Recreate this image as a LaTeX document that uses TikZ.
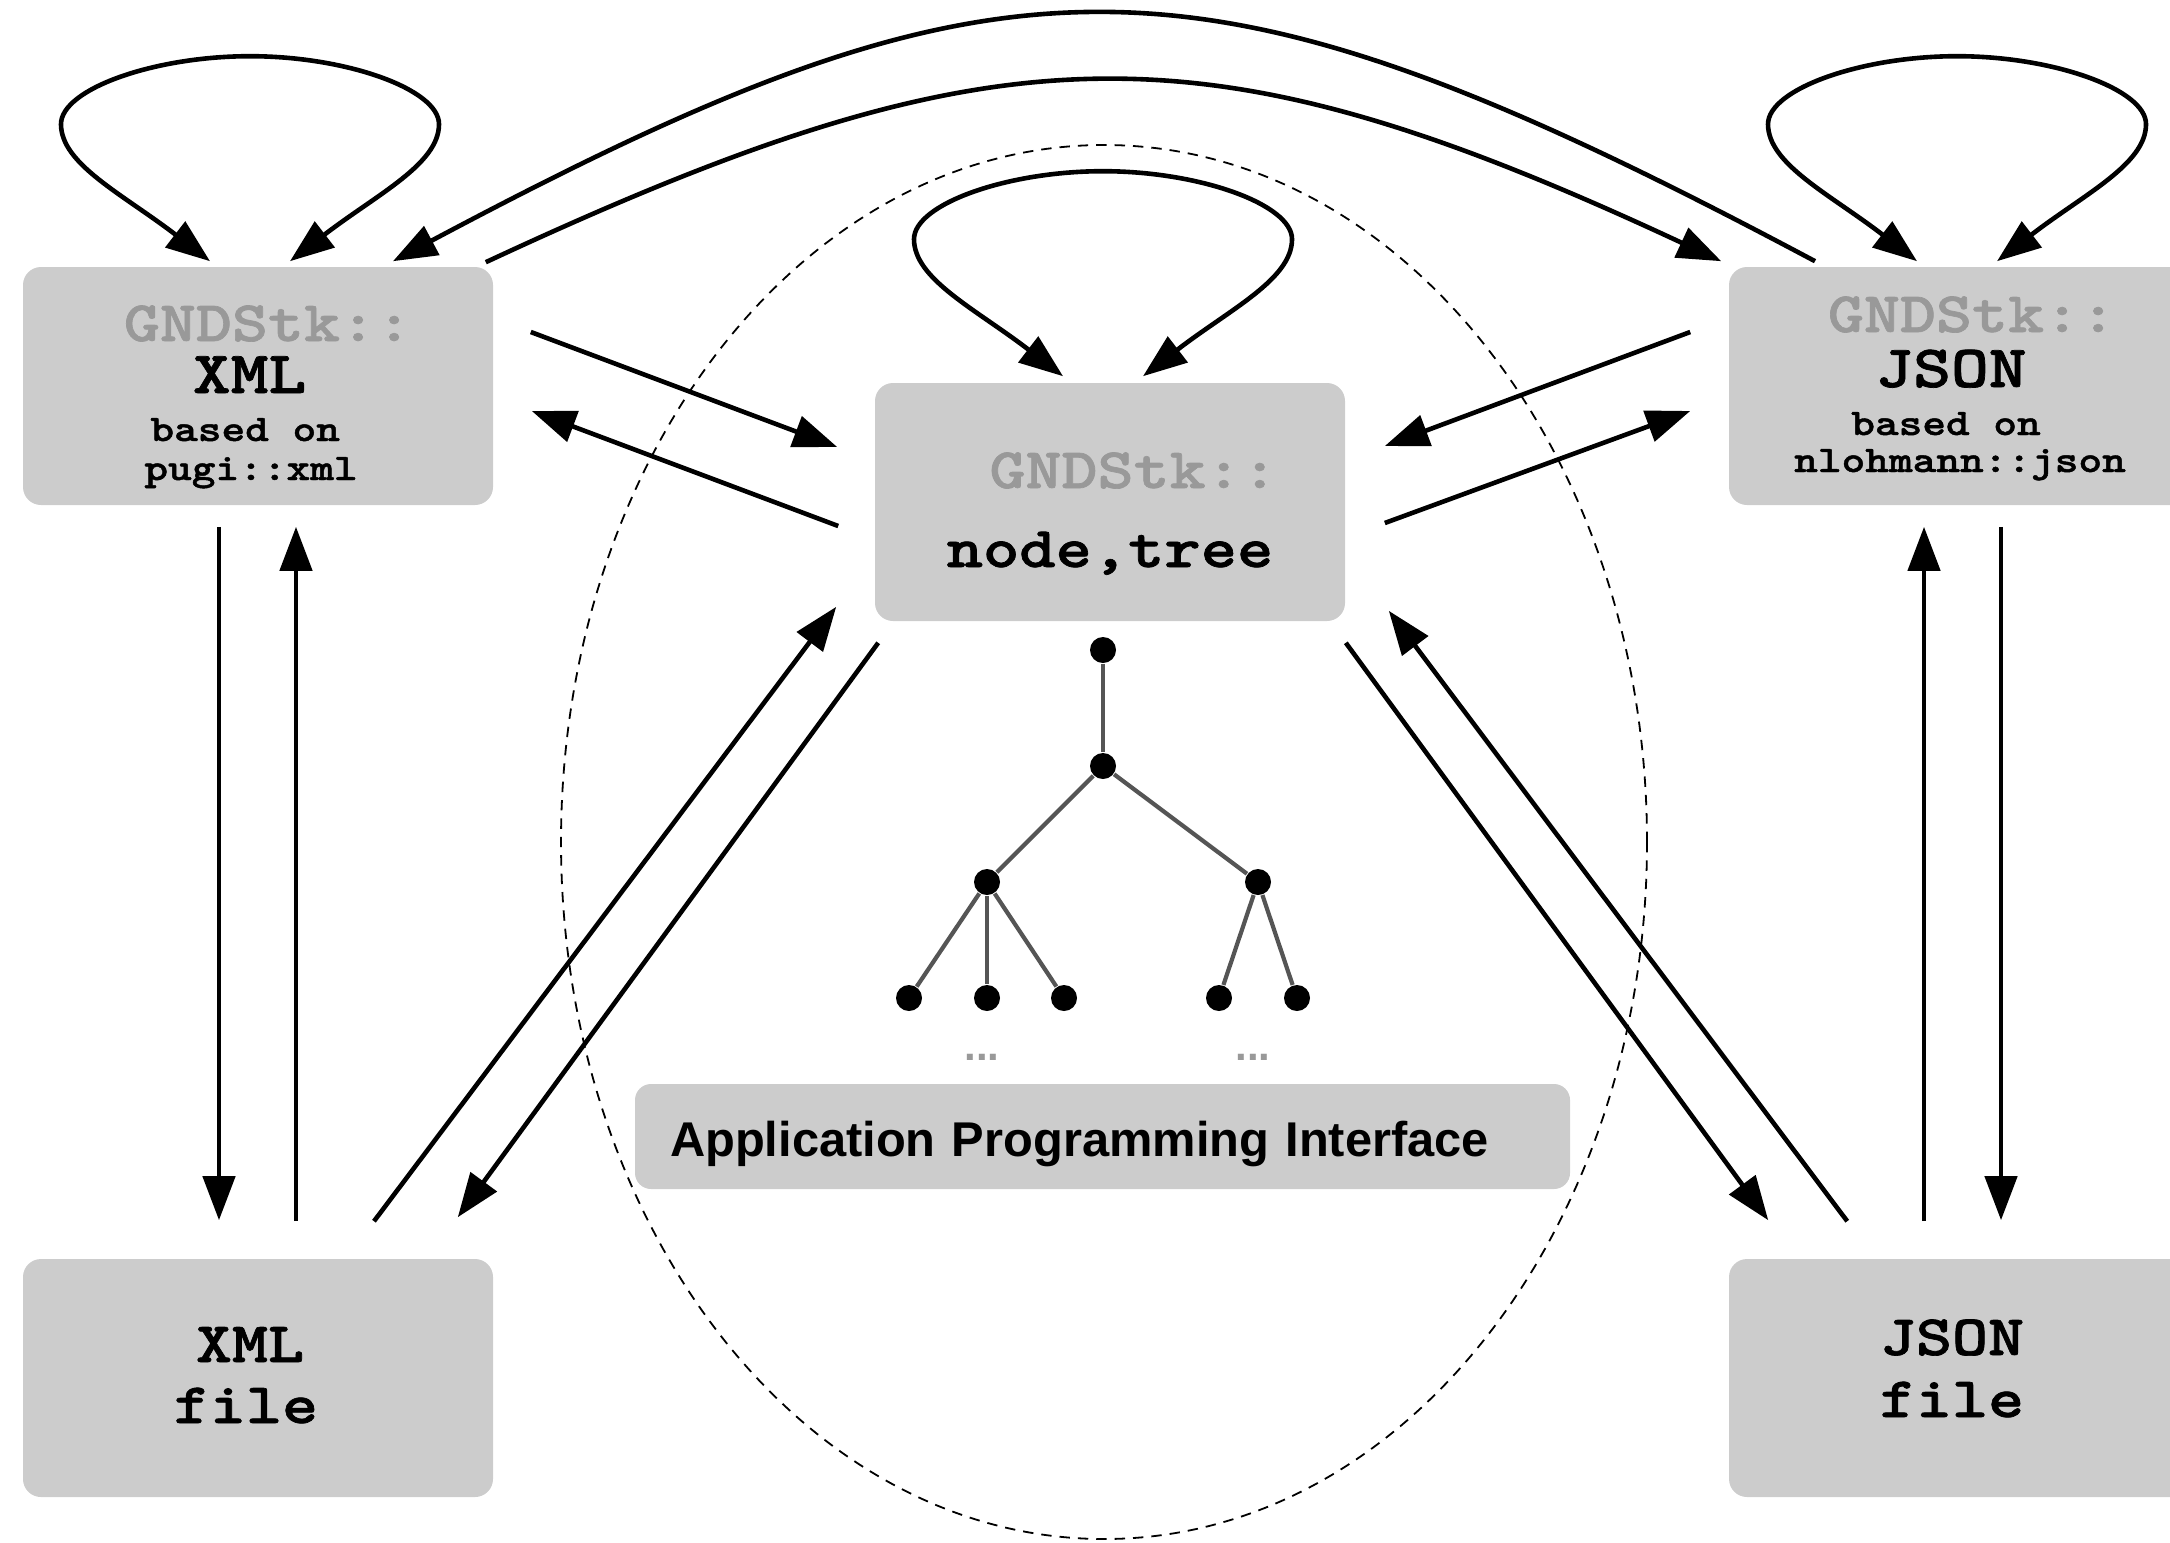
\documentclass[tikz,border=0pt]{standalone}
\usepackage{fontspec}
\usetikzlibrary{arrows.meta,calc}
\newfontfamily\codefont{lmmonolt10-bold}[Extension=.otf, FakeStretch=1.2, FakeBold=1.2]
\newfontfamily\apifont{Liberation Sans}
\definecolor{boxgray}{RGB}{204,204,204}
\definecolor{nsgray}{RGB}{153,153,153}
\definecolor{branchgray}{RGB}{85,85,85}
% one centred line of a box, moved sideways by #1
\newcommand{\ctr}[2][0pt]{\hbox to 0pt{\hss\kern#1\kern#1#2\hss}}
\newcommand{\nsname}{{\fontsize{14.3}{12}\selectfont\color{nsgray}GNDStk::}}
\newcommand{\labsize}{\fontsize{15}{12}\selectfont}
\newcommand{\libsize}{\fontsize{9.4}{12}\selectfont}
\newcommand{\fsize}{\fontsize{14.3}{12}\selectfont}

\begin{document}
\begin{tikzpicture}[
  x=0.25pt, y=-0.25pt,
  gbox/.style={fill=boxgray, rounded corners=4.5pt, minimum width=117.5pt,
               minimum height=59.5pt, inner sep=0pt, align=center, text depth=0pt,
               font=\codefont\fontsize{12}{12}\selectfont},
  apibox/.style={fill=boxgray, rounded corners=4pt, text width=216.25pt, align=left,
                 inner xsep=8.75pt, inner ysep=0pt, minimum height=26.25pt,
                 text height=9.75pt, text depth=0pt,
                 font=\apifont\bfseries\fontsize{12.2}{14}\selectfont},
  flow/.style={line width=1.15pt},
  apiscope/.style={dash pattern=on 2.6pt off 2pt, line width=0.45pt},
  treedot/.style={circle, fill=black, inner sep=0pt, minimum size=6.5pt},
  branch/.style={branchgray, line width=1.05pt},
  more/.style={nsgray, inner sep=0pt, font=\apifont\bfseries\fontsize{10.5}{10}\selectfont},
  >={Triangle[length=11pt,width=8pt]}
]
\useasboundingbox (0,0) rectangle (2170,1542);
\clip (0,0) rectangle (2170,1542);

\draw[apiscope] (1104,842) ellipse [x radius=135.75pt, y radius=174.25pt];

\node[gbox, text height=47pt] (xmlobj) at (258,386) {\ctr[2.5pt]{\nsname}\\[1pt]
  \ctr[-2.1pt]{\labsize XML}\\
  \ctr[-3.2pt]{\libsize based on}\\[-2.25pt]
  \ctr[-1.75pt]{\libsize pugi::xml}};

\node[gbox, text height=43pt] (jsonobj) at (1964,386) {\ctr[2pt]{\nsname}\\[1.75pt]
  \ctr[-3.25pt]{\labsize JSON}\\
  \ctr[-4.5pt]{\libsize based on}\\[-2.75pt]
  \ctr[-1pt]{\libsize nlohmann::json}};

\node[gbox, text height=32.5pt] (tree) at (1110,502) {\ctr[5.9pt]{\nsname}\\[7.75pt]
  \ctr{\fontsize{14.4}{12}\selectfont node,tree}};

\node[gbox, text height=22.5pt] (xmlfile) at (258,1378) {\ctr[-2pt]{\fsize XML}\\[3.25pt]
  \ctr[-3pt]{\fsize file}};

\node[gbox, text height=19.5pt] (jsonfile) at (1964,1378) {\ctr[-3pt]{\fsize JSON}\\[3.5pt]
  \ctr[-3pt]{\fsize file}};

\node[apibox] (api) at (1102.5,1136.5) {Application Programming Interface};

\node[treedot] (t0) at (1103,650) {};
\node[treedot] (t1) at (1103,766) {};
\node[treedot] (t2) at (987,882) {};
\node[treedot] (t3) at (1258,882) {};
\node[treedot] (t4) at (909,998) {};
\node[treedot] (t5) at (987,998) {};
\node[treedot] (t6) at (1064,998) {};
\node[treedot] (t7) at (1219,998) {};
\node[treedot] (t8) at (1297,998) {};
\draw[branch] (t0) -- (t1);
\draw[branch] (t1) -- (t2);
\draw[branch] (t1) -- (t3);
\draw[branch] (t2) -- (t4);
\draw[branch] (t2) -- (t5);
\draw[branch] (t2) -- (t6);
\draw[branch] (t3) -- (t7);
\draw[branch] (t3) -- (t8);
\node[more] (more2) at (982,1057) {...};
\node[more] (more3) at (1253,1057) {...};

\draw[flow, ->] ($(xmlobj.east)+(37,-54)$) -- ($(tree.west)+(-37,-55)$);
\draw[flow, ->] ($(tree.west)+(-36,24)$) -- ($(xmlobj.east)+(38,25)$);
\draw[flow, ->] ($(jsonobj.west)+(-38,-54)$) -- ($(tree.east)+(39,-56)$);
\draw[flow, ->] ($(tree.east)+(39,21)$) -- ($(jsonobj.west)+(-38,25)$);

\draw[flow, ->] ($(xmlobj.south)+(-39,21)$) -- ($(xmlfile.north)+(-39,-38)$);
\draw[flow, ->] ($(xmlfile.north)+(38,-37)$) -- ($(xmlobj.south)+(38,21)$);
\draw[flow, ->] ($(jsonfile.north)+(-40,-37)$) -- ($(jsonobj.south)+(-40,21)$);
\draw[flow, ->] ($(jsonobj.south)+(37,21)$) -- ($(jsonfile.north)+(37,-38)$);

\draw[flow, ->] ($(xmlfile.north)+(116,-37)$) -- ($(tree.south west)+(-38,-15)$);
\draw[flow, ->] ($(tree.south west)+(4,21)$) -- ($(xmlfile.north east)+(-36,-41)$);
\draw[flow, ->] ($(tree.south east)+(0,21)$) -- ($(jsonfile.north west)+(40,-38)$);
\draw[flow, ->] ($(jsonfile.north west)+(119,-37)$) -- ($(tree.south east)+(43,-11)$);

\draw[flow, ->] ($(jsonobj.north)+(-149,-5)$) .. controls +(-618,-329) and +(618,-329) .. ($(xmlobj.north)+(135,-5)$);
\draw[flow, ->] ($(xmlobj.north east)+(-8,-4)$) .. controls +(517,-241) and +(-517,-241) .. ($(jsonobj.north west)+(-7,-5)$);

\draw[flow, <->] ($(xmlobj.north)+(-48,-5)$) .. controls +(-87,-67) and +(0,40) .. ++(-149,-137)
  .. controls +(0,-35) and +(-96,0) .. ++(189,-68) .. controls +(96,0) and +(0,-35) .. ++(189,68)
  .. controls +(0,40) and +(87,-67) .. ++(-149,137);
\draw[flow, <->] ($(tree.north)+(-47,-6)$) .. controls +(-87,-67) and +(0,40) .. ++(-149,-137)
  .. controls +(0,-35) and +(-96,0) .. ++(189,-68) .. controls +(96,0) and +(0,-35) .. ++(189,68)
  .. controls +(0,40) and +(87,-67) .. ++(-149,137);
\draw[flow, <->] ($(jsonobj.north)+(-47,-5)$) .. controls +(-87,-67) and +(0,40) .. ++(-149,-137)
  .. controls +(0,-35) and +(-96,0) .. ++(189,-68) .. controls +(96,0) and +(0,-35) .. ++(189,68)
  .. controls +(0,40) and +(87,-67) .. ++(-149,137);

\end{tikzpicture}
\end{document}
